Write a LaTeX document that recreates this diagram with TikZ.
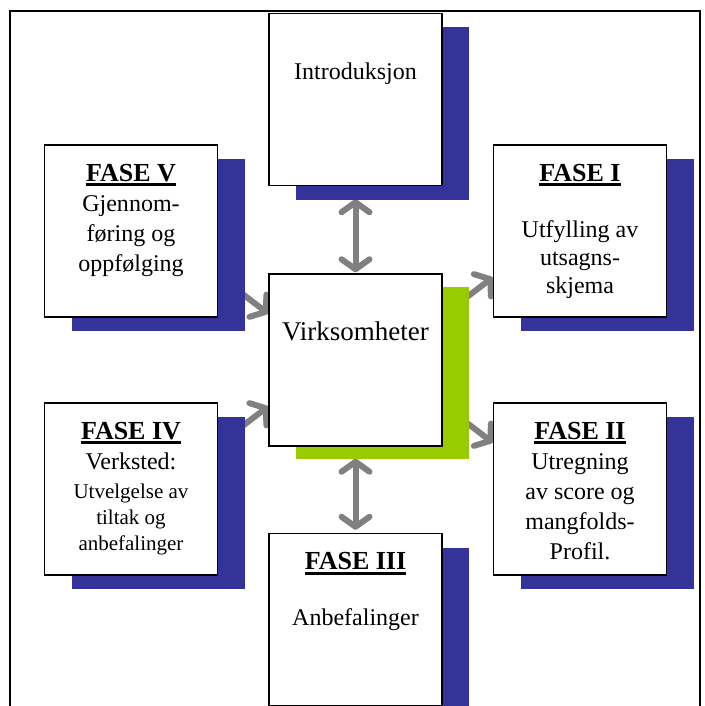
\documentclass[tikz,border=0pt]{standalone}
\usepackage{fontspec}
\setmainfont{Liberation Serif}
\usepackage{tikz}
\usetikzlibrary{arrows.meta,positioning,shadows,backgrounds}
\usepackage{xcolor}
\definecolor{phaseblue}{RGB}{51,51,153}
\definecolor{hubgreen}{RGB}{153,204,0}
\definecolor{linkgray}{RGB}{128,128,128}
\tikzstyle{panel} = [rectangle, draw=black, line width=1.5pt, fill=white, inner sep=0pt, minimum width=173pt, minimum height=172pt]
\tikzstyle{phase} = [panel, drop shadow={shadow xshift=27pt, shadow yshift=-14pt, fill=phaseblue, draw=none, opacity=1}]
\tikzstyle{hub} = [panel, drop shadow={shadow xshift=27pt, shadow yshift=-13pt, fill=hubgreen, draw=none, opacity=1}]
\tikzstyle{arrow} = [line width=6pt, color=linkgray, >={Straight Barb[length=10pt,width=28pt,round]}]
\newcommand{\boxtext}[2]{\parbox[t][172pt][t]{172pt}{\centering\vspace*{#1}\fontsize{24}{30}\selectfont #2}}
\newcommand{\fase}[1]{{\fontsize{26}{30}\selectfont\bfseries\leavevmode\setbox0=\hbox{#1}\rlap{\rule[-5pt]{\wd0}{3pt}}\box0\par}}

\begin{document}
\begin{tikzpicture}[x=1pt, y=-1pt]
\useasboundingbox (0,0) rectangle (704,706);
% Frame
\draw[line width=2pt] (10,706) -- (10,11) -- (700,11) -- (700,706);

% Centre and phases
\node (virk) [hub] at (355.5,360) {\boxtext{47.5pt}{\fontsize{27}{32}\selectfont Virksomheter}};
\node (intro) [phase, above=87pt of virk] {\boxtext{49pt}{Introduksjon}};
\node (fase3) [phase, below=86pt of virk] {\boxtext{19pt}{\fase{FASE III}\vspace{26pt}Anbefalinger}};
\node (fase5) [phase, left=50pt of virk, yshift=129pt] {\boxtext{19pt}{\fase{FASE V}Gjennom-\\føring og\\oppfølging}};
\node (fase4) [phase, left=50pt of virk, yshift=-129pt] {\boxtext{19pt}{\fase{FASE IV}Verksted:\par\vspace{3pt}{\fontsize{21}{26}\selectfont Utvelgelse av\\tiltak og\\anbefalinger\par}}};
\node (fase1) [phase, right=50pt of virk, yshift=129pt] {\boxtext{19pt}{\fase{FASE I}\fontsize{24}{28}\selectfont\vspace{28pt}Utfylling av\\utsagns-\\skjema}};
\node (fase2) [phase, right=50pt of virk, yshift=-129pt] {\boxtext{19pt}{\fase{FASE II}Utregning\\av score og\\mangfolds-\\Profil.}};

% Arrows
\begin{scope}[on background layer]
\draw[arrow, <->, shorten <=13pt, shorten >=1pt] (intro.south) -- (virk.north);
\draw[arrow, <->, shorten <=12pt, shorten >=3pt] (virk.south) -- (fase3.north);
\draw[arrow, ->] (fase5.-27) -- (virk.152);
\draw[arrow, ->] (virk.27) -- (fase1.208);
\draw[arrow, ->] (fase4.27) -- (virk.208);
\draw[arrow, ->] (virk.-27) -- (fase2.152);
\end{scope}
\end{tikzpicture}
\end{document}
